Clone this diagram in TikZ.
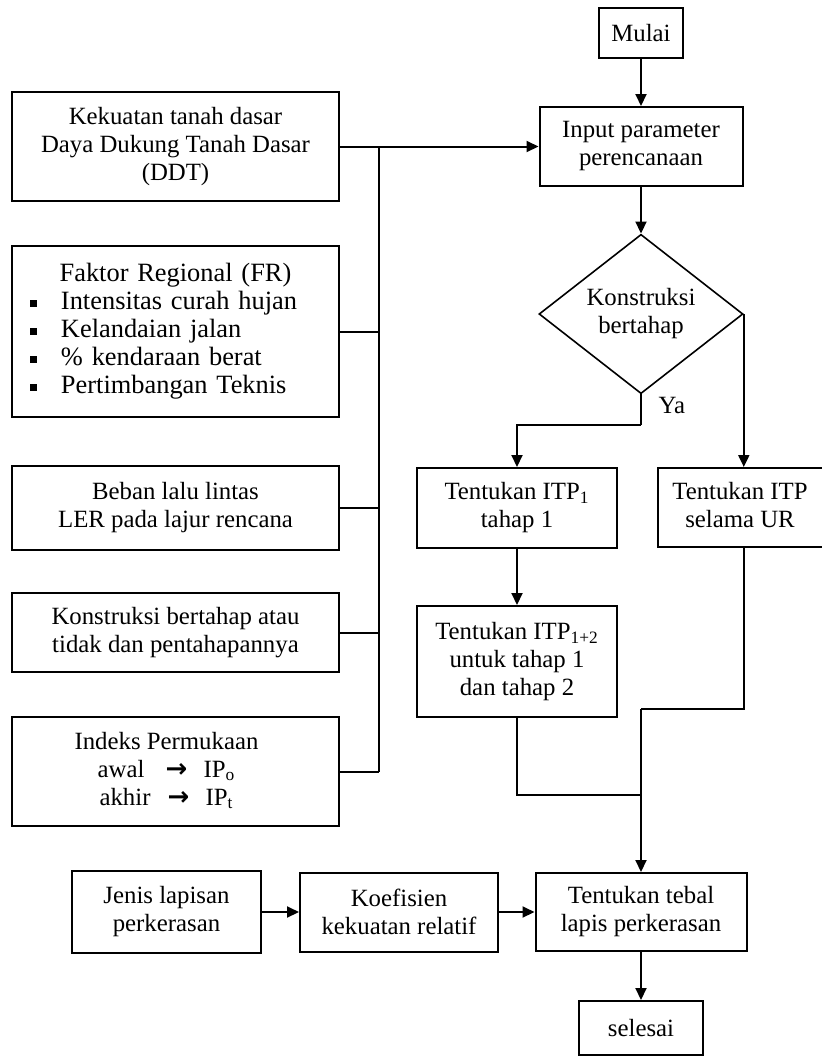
\documentclass[tikz,border=0pt]{standalone}
\usepackage{fontspec}
\setmainfont{Liberation Serif}
\newfontfamily\panah{DejaVu Sans}
\usetikzlibrary{arrows.meta,shapes.geometric}
\tikzset{>={Triangle[length=6pt,width=5.5pt]}}
\tikzstyle{langkah}=[rectangle,draw,line width=1pt,align=center,inner sep=0pt,font=\fontsize{12.4}{14}\selectfont]
\tikzstyle{keputusan}=[diamond,draw,line width=0.8pt,align=center,inner sep=0pt,font=\fontsize{12.4}{14}\selectfont]
\newcommand{\sqbul}{\rule[1.5pt]{3.5pt}{3.5pt}}
\newcommand{\ke}{{\panah\bfseries\fontsize{13}{14}\selectfont →}}

\begin{document}
\begin{tikzpicture}[x=1pt,y=1pt,line width=1pt]
	\useasboundingbox (0,0) rectangle (410.5,-528);
	\def \kiri {87.75};
	\def \lebar {163.5pt};
	\def \tengah {320.5};
	\def \bus {189.5};
	\def \baris {-456};

	\node[langkah, minimum width=\lebar, minimum height=54.5pt] (ddt) at (\kiri,-73.25) {Kekuatan tanah dasar\\Daya Dukung Tanah Dasar\\(DDT)};
	\node[langkah, minimum width=\lebar, minimum height=85.5pt, text width=145.5pt, align=left, font=\fontsize{13.2}{14}\selectfont] (fr) at (\kiri,-165.75) {\makebox[\hsize]{Faktor Regional (FR)}\\
		\makebox[15.5pt][l]{\sqbul}Intensitas curah hujan\\
		\makebox[15.5pt][l]{\sqbul}Kelandaian jalan\\
		\makebox[15.5pt][l]{\sqbul}\% kendaraan berat\\
		\makebox[15.5pt][l]{\sqbul}Pertimbangan Teknis};
	\node[langkah, minimum width=\lebar, minimum height=42pt] (beban) at (\kiri,-254) {Beban lalu lintas\\LER pada lajur rencana};
	\node[langkah, minimum width=\lebar, minimum height=39.5pt] (tahap) at (\kiri,-316.25) {Konstruksi bertahap atau\\tidak dan pentahapannya};
	\node[langkah, minimum width=\lebar, minimum height=54.5pt] (indeks) at (\kiri,-385.75) {\begin{tabular}{@{}c@{\hspace{9pt}}}Indeks Permukaan\\
		\makebox[34pt][l]{awal}\makebox[19pt][l]{\ke}IP\textsubscript{o}\\
		\makebox[34pt][l]{akhir}\makebox[19pt][l]{\ke}IP\textsubscript{t}\end{tabular}};

	\node[langkah, minimum width=42pt, minimum height=25pt] (mulai) at (\tengah,-16.5) {Mulai};
	\node[langkah, minimum width=101.5pt, minimum height=39.5pt] (input) at (\tengah,-73.25) {Input parameter\\perencanaan};
	\node[keputusan, minimum width=102pt, minimum height=67pt] (kons) at (\tengah,-157) {Konstruksi\\bertahap};
	\node[anchor=west, font=\fontsize{12.4}{14}\selectfont] (ya) at (325.5,-202.5) {Ya};

	\node[langkah, minimum width=100pt, minimum height=40pt] (itpa) at (258.5,-254) {Tentukan ITP\textsubscript{1}\\tahap 1};
	\node[langkah, minimum width=102pt, minimum height=39.5pt] (itpur) at (380,-253.75) {\begin{tabular}{@{}c@{\hspace{20pt}}}Tentukan ITP\\selama UR\end{tabular}};
	\node[langkah, minimum width=100pt, minimum height=55.5pt] (itpb) at (258.5,-330.75) {Tentukan ITP\textsubscript{1+2}\\untuk tahap 1\\dan tahap 2};

	\node[langkah, minimum width=94.5pt, minimum height=41pt] (jenis) at (83.25,\baris) {Jenis lapisan\\perkerasan};
	\node[langkah, minimum width=99pt, minimum height=39.5pt] (koef) at (199.5,\baris) {Koefisien\\kekuatan relatif};
	\node[langkah, minimum width=105.5pt, minimum height=39pt] (tebal) at (\tengah,\baris) {Tentukan tebal\\lapis perkerasan};
	\node[langkah, minimum width=62pt, minimum height=27pt] (selesai) at (\tengah,-514) {selesai};

	\coordinate (bt) at (\bus,-73.25);
	\coordinate (bb) at (\bus,-385.75);
	\coordinate (cabang) at (\tengah,-212.5);
	\coordinate (j1) at (\tengah,-354.5);
	\coordinate (j2) at (\tengah,-397.5);

	\draw[->] (ddt.east) -- (input.west);
	\draw[-] (bt) -- (bb);
	\draw[-] (fr.east) -- (fr.east -| bt);
	\draw[-] (beban.east) -- (beban.east -| bt);
	\draw[-] (tahap.east) -- (tahap.east -| bt);
	\draw[-] (indeks.east) -- (indeks.east -| bt);

	\draw[->] (mulai) -- (input);
	\draw[->] (input) -- (kons);
	\draw[-] (kons.south) -- (cabang);
	\draw[->] (cabang) -| (itpa.north);
	\draw[->] (kons.east) -- (kons.east |- itpur.north);
	\draw[->] (itpa) -- (itpb);
	\draw[-] (kons.east |- itpur.south) |- (j1);
	\draw[-] (itpb.south) |- (j2);
	\draw[->] (j1) -- (tebal.north);

	\draw[->] (jenis) -- (koef);
	\draw[->] (koef) -- (tebal);
	\draw[->] (tebal) -- (selesai);
\end{tikzpicture}
\end{document}
